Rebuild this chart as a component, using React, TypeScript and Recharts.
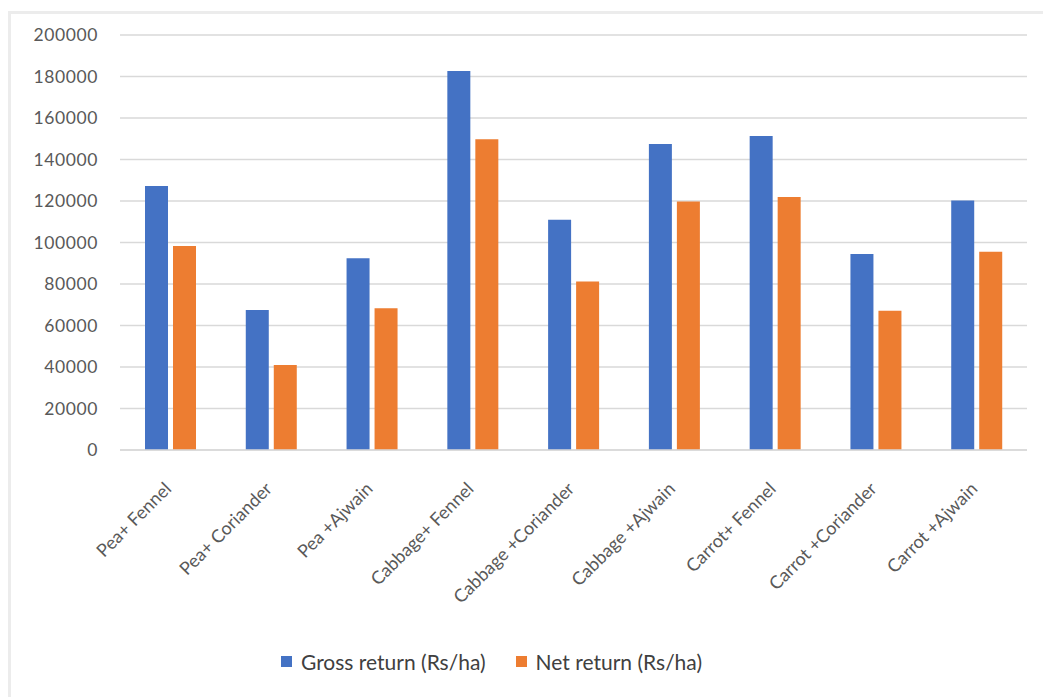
import React from "react";
import {
  BarChart,
  Bar,
  XAxis,
  YAxis,
  CartesianGrid,
  Legend,
} from "recharts";

const crops = [
  "Pea+ Fennel",
  "Pea+ Coriander",
  "Pea +Ajwain",
  "Cabbage+ Fennel",
  "Cabbage +Coriander",
  "Cabbage +Ajwain",
  "Carrot+ Fennel",
  "Carrot +Coriander",
  "Carrot +Ajwain",
];

const grossReturn = [127200, 67500, 92400, 182600, 111000, 147500, 151300, 94500, 120300];
const netReturn = [98300, 41000, 68300, 149800, 81200, 119700, 121900, 67100, 95600];

const yTicks = [0, 20000, 40000, 60000, 80000, 100000, 120000, 140000, 160000, 180000, 200000];

const GROSS_COLOR = "#4472C4";
const NET_COLOR = "#ED7D31";
const TEXT_COLOR = "#595959";
const FONT = "Lato, 'Open Sans', sans-serif";

const data = crops.map((name, i) => ({
  name,
  gross: grossReturn[i],
  net: netReturn[i],
}));

// rotated category labels, anchored at the end so they hang below the axis
const SlantedTick = (props: any) => {
  const { x, y, payload } = props;
  return (
    <g transform={`translate(${x + 2},${y + 32})`}>
      <text
        x={0}
        y={0}
        textAnchor="end"
        transform="rotate(-45)"
        fill={TEXT_COLOR}
        fontSize={18}
        fontFamily={FONT}
      >
        {payload.value}
      </text>
    </g>
  );
};

const LegendBox = () => (
  <div
    style={{
      height: 40,
      display: "flex",
      justifyContent: "center",
      alignItems: "center",
      gap: 30,
      fontFamily: FONT,
      fontSize: 21,
      color: "#404040",
      marginLeft: -44,
    }}
  >
    {[
      { label: "Gross return (Rs/ha)", color: GROSS_COLOR },
      { label: "Net return (Rs/ha)", color: NET_COLOR },
    ].map((item) => (
      <div key={item.label} style={{ display: "flex", alignItems: "center", gap: 9 }}>
        <span style={{ width: 11, height: 11, background: item.color, display: "inline-block" }} />
        <span>{item.label}</span>
      </div>
    ))}
  </div>
);

export default function App() {
  return (
    <div
      style={{
        position: "absolute",
        left: 0,
        top: 0,
        width: 1043,
        height: 697,
        background: "#fff",
        overflow: "hidden",
      }}
    >
      {/* soft frame around the chart */}
      <div
        style={{
          position: "absolute",
          left: 8,
          top: 11,
          width: 1060,
          height: 720,
          borderLeft: "3px solid #ececec",
          borderTop: "3px solid #ececec",
        }}
      />
      <BarChart
        width={1043}
        height={697}
        data={data}
        margin={{ top: 35, right: 16, left: 0, bottom: 0 }}
        barSize={23}
        barGap={5}
      >
        <CartesianGrid vertical={false} stroke="#d9d9d9" strokeWidth={1.5} />
        <XAxis
          dataKey="name"
          interval={0}
          height={207}
          tick={<SlantedTick />}
          tickLine={false}
          axisLine={{ stroke: "#d9d9d9", strokeWidth: 1.5 }}
        />
        <YAxis
          width={120}
          domain={[0, 200000]}
          ticks={yTicks}
          interval={0}
          tickLine={false}
          axisLine={false}
          tickMargin={16}
          tick={{ fill: TEXT_COLOR, fontSize: 17.5, fontFamily: FONT, letterSpacing: 0.6 }}
        />
        <Legend
          verticalAlign="bottom"
          content={<LegendBox />}
          wrapperStyle={{ bottom: 16 }}
        />
        <Bar dataKey="gross" name="Gross return (Rs/ha)" fill={GROSS_COLOR} isAnimationActive={false} />
        <Bar dataKey="net" name="Net return (Rs/ha)" fill={NET_COLOR} isAnimationActive={false} />
      </BarChart>
    </div>
  );
}
